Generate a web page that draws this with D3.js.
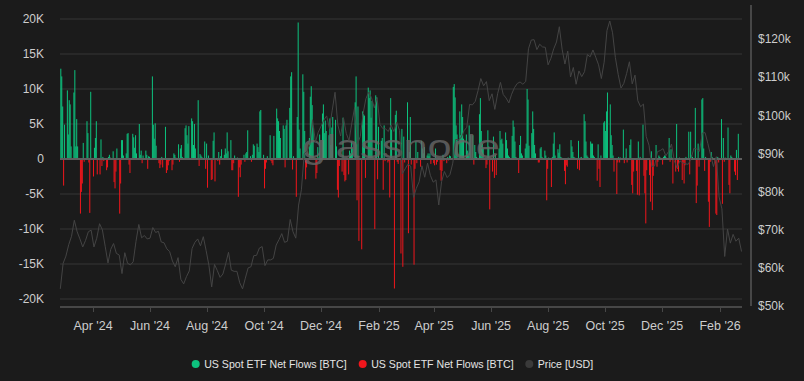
<!DOCTYPE html>
<html><head><meta charset="utf-8">
<script src="https://cdn.jsdelivr.net/npm/d3@7"></script>
<style>
html,body{margin:0;padding:0;background:#1b1b1b;}
svg{display:block;}
text{font-family:"Liberation Sans",Arial,sans-serif;}
</style></head><body>
<svg id="chart" width="804" height="381"></svg>
<script>
// ---------- DATA ----------
// Daily (weekday) US spot ETF net flows, in thousand BTC, starting Mon 2024-02-26, one row per week (Mon..Fri)
const flowStart = "2024-02-26";
const flowsK = [
  12.9, 11.8, 7.5, -3.8, 4.9,
  9.8, 3.5, 8.4, 7.8, 1.8,
  9.5, 12.7, 1.8, 5.7, 1.8,
  -7.8, -4.7, -3.5, 2.3, -0.4,
  5.4, 3.7, -0.5, -7.7, 9.6,
  -2.5, 1.6, 3.0, 5.4, -2.2,
  -2.2, 2.8, -1.0, 0.3, -0.3,
  -1.6, -1.2, 0.3, 0.6, 0.2,
  1.1, -3.3, -4.2, -1.8, 1.5,
  -7.8, -3.5, 2.7, 2.7, 0.5,
  0.8, 3.6, 3.7, -0.8, -2.0,
  3.6, 3.1, 1.6, 3.4, 0.8,
  5.0, 0.6, 1.2, -0.6, 0.5,
  1.2, 0.6, -1.4, 0.4, 0.3,
  11.8, 4.9, 2.9, 5.1, 1.9,
  -0.6, -1.3, -0.8, 0.3, -1.2,
  4.6, -2.0, -1.6, -0.9, -0.3,
  -1.6, -0.8, 0.8, 0.6, 0.2,
  2.1, -0.4, 1.5, 2.0, 0.3,
  4.4, 4.8, 3.4, 2.2, 4.7,
  5.8, 5.4, 2.0, 5.0, 1.5,
  8.4, -1.0, 0.7, 0.5, 0.3,
  2.5, -1.4, 2.2, -4.1, 0.5,
  -3.0, -2.9, 2.6, 3.8, -3.2,
  -0.3, 1.0, -0.8, 0.4, 1.4,
  0.6, 1.5, 0.8, 3.8, 1.1,
  2.7, -1.6, -1.6, -0.6, 0.5,
  0.2, -5.4, -1.2, -2.6, -0.8,
  0.6, -0.4, 0.8, 1.0, 4.1,
  0.4, -0.4, 0.6, 2.1, 1.9,
  2.2, 1.7, 1.0, 6.8, 7.0,
  0.6, -4.2, -1.4, -0.5, 0.4,
  3.4, -0.3, -0.6, -0.9, 3.3,
  7.2, 5.8, 5.4, 4.0, 3.0,
  4.8, 4.3, -1.2, 4.8, 5.6,
  7.3, 11.8, 12.4, -1.5, 0.4,
  -5.4, 6.0, 19.5, 4.2, 1.5,
  12.1, 9.6, 4.0, -2.9, -1.2,
  3.0, 8.9, 10.4, 7.7, 4.5,
  -2.8, -2.0, 1.7, 0.2, 3.5,
  6.5, 7.8, 3.7, 5.5, 4.0,
  3.4, 5.8, 2.0, 4.5, 6.0,
  5.6, 1.8, -4.4, -5.5, -1.0,
  -1.8, 5.9, -2.3, -3.2, -3.0,
  -2.2, 1.2, 0.8, 2.5, 1.5,
  8.1, 11.8, -5.9, 7.5, -11.7,
  -12.9, 6.8, 6.4, 6.2, -2.7,
  10.2, 8.7, 9.8, 5.9, 8.3,
  -10.0, 9.1, 8.8, -2.9, 4.6,
  2.6, 3.0, -4.4, 4.8, -0.3,
  -0.5, -0.3, -5.5, 8.7, 4.2,
  -18.5, 6.3, 6.9, -0.4, -0.7,
  -13.5, 4.3, -15.4, 3.2, -0.5,
  8.1, -10.6, 1.0, 6.0, -0.8,
  -15.1, -1.4, 2.5, -0.6, 1.0,
  -1.1, 2.6, 1.5, 0.8, 1.7,
  0.5, 0.8, 0.4, 0.8, -0.7,
  -0.6, -0.9, 1.5, -0.8, -0.4,
  -1.6, -3.1, -1.7, 0.6, -0.3,
  -0.6, 0.3, -0.2, 0.5, 0.4,
  10.3, 10.7, 8.8, 4.8, 3.5,
  6.8, 3.4, 7.8, 6.0, 2.9,
  3.5, 1.2, 0.5, 4.8, 3.4,
  3.4, -0.8, 2.0, 1.0, 0.3,
  6.4, 8.7, 4.0, 2.2, 1.5,
  -1.3, -0.8, 4.1, 1.8, -7.2,
  -1.8, 3.2, -2.7, 0.6, -2.3,
  1.5, 4.0, 2.7, 2.9, 2.2,
  3.8, 2.7, 1.5, 0.5, 0.3,
  3.3, 5.5, 4.6, 2.5, 0.3,
  -2.0, 2.0, 3.3, 0.8, 0.5,
  1.5, 2.2, 10.0, 8.5, 1.9,
  3.7, 6.8, 4.3, 2.0, 0.8,
  -0.5, -0.5, 1.5, 1.7, 0.3,
  1.2, 0.5, -5.9, -1.4, 0.2,
  -4.0, 0.3, 2.2, 3.8, 0.5,
  1.4, 0.9, 2.1, 0.3, 0.2,
  -1.7, -3.6, -0.9, -1.1, 0.2,
  2.7, 1.8, 1.0, 0.3, 0.2,
  -1.4, 2.6, -1.6, 0.2, 0.3,
  6.4, 5.4, 2.5, 0.5, 0.3,
  2.5, 2.2, 2.2, 0.5, 0.3,
  -3.1, 2.1, -1.4, -4.0, 0.5,
  5.2, 5.4, 4.0, 6.8, 9.5,
  7.8, 3.4, 2.0, 0.5, -1.8,
  -5.0, -0.5, 0.3, -0.5, 0.2,
  4.2, -0.6, 0.2, 1.5, -0.5,
  2.0, 2.8, -3.7, -4.9, -1.8,
  -1.7, -5.1, 2.5, -5.2, 0.3,
  4.9, -2.4, -4.9, -9.2, -1.6,
  -2.3, -6.1, 1.1, -7.3, -2.4,
  2.0, -1.1, -0.4, 0.5, 0.3,
  -0.8, 0.3, 0.5, 0.4, 0.2,
  3.0, -0.4, 1.4, 0.2, -3.5,
  -1.8, 5.0, -1.4, -1.8, 0.2,
  -3.0, -0.6, -3.5, -0.9, 0.3,
  3.9, -2.2, 3.9, 0.5, 0.3,
  7.3, -6.3, -3.8, 2.2, -1.1,
  8.5, 8.7, 1.5, -1.7, 0.3,
  -6.1, -9.7, -0.4, 1.0, 0.3,
  -0.6, -7.8, -8.0, 0.3, -0.5,
  5.7, -6.4, 3.0, -0.4, 0.2,
  4.5, -3.7, -4.9, 0.5, 0.3,
  -1.8, -2.3, 1.3, -3.0, 3.6
];

// BTC price in thousand USD, every 3 days starting 2024-02-26
const priceStart = "2024-02-26";
const priceStepDays = 3;
const priceK = [
  54.5, 61.2,
  63.1, 66.1, 68.3, 72.5, 69.5, 67.6, 65.5, 67.2, 69.5, 69.9,
  65.5, 67.8, 71.6, 70.0, 65.7, 61.3, 64.9, 66.4, 63.8, 63.4,
  58.5, 64.0, 61.2, 60.8, 61.6, 67.0, 71.4, 67.9, 68.5, 67.6,
  67.8, 70.6, 69.3, 69.6, 66.8, 66.6, 65.0, 64.3, 61.8, 60.3,
  62.7, 57.0, 55.8, 57.7, 59.2, 65.1, 66.7, 67.6, 65.8, 68.2, 64.6,
  60.7, 55.0, 60.9, 59.3, 57.5, 58.4, 61.1, 64.1, 59.4, 59.1,
  59.1, 56.1, 54.5, 57.3, 60.0, 60.3, 63.2, 63.3, 65.2, 65.6,
  60.6, 62.1, 62.1, 62.5, 66.0, 67.4, 69.0, 66.7, 67.0, 72.7,
  69.5, 67.8, 76.5, 80.5, 90.0, 90.6, 92.3, 98.9, 93.0, 95.6,
  97.2, 98.8, 99.9, 96.6, 101.4, 106.1, 97.5, 94.6, 99.4, 95.3, 93.4,
  98.1, 102.1, 92.5, 94.5, 100.5, 104.4, 106.1, 104.7, 102.0, 104.7,
  97.7, 96.6, 96.5, 95.8, 97.5, 95.8, 98.3, 96.1, 84.7,
  86.0, 87.2, 86.7, 78.5, 80.9, 82.6, 86.8, 83.8, 87.5, 84.3, 82.5,
  83.1, 76.5, 82.6, 85.3, 83.7, 84.5, 87.5, 93.7, 93.7, 94.2,
  96.0, 96.9, 102.9, 102.8, 103.7, 106.5, 109.7, 107.8, 108.9, 103.9,
  105.7, 101.6, 105.7, 108.7, 105.5, 104.6, 103.3, 105.6, 107.3, 108.4,
  108.8, 108.2, 108.9, 117.5, 119.8, 119.9, 117.3, 118.7, 118.0, 117.9,
  113.3, 115.0, 117.5, 119.3, 123.3, 117.4, 113.5, 116.9, 110.1, 112.6, 108.2,
  111.7, 110.2, 111.5, 116.0, 115.4, 117.2, 115.3, 113.3, 109.7, 114.0,
  122.3, 124.8, 121.7, 115.2, 110.8, 107.2, 108.4, 111.0, 114.1, 108.3,
  110.6, 103.9, 102.3, 103.0, 94.5, 92.2, 86.6, 86.8, 90.5, 90.8,
  91.3, 89.4, 90.6, 92.5, 88.2, 86.2, 88.1, 87.6, 87.3, 87.2,
  88.7, 91.4, 91.2, 90.6, 95.4, 95.5, 92.6, 89.5, 86.6, 89.2, 78.6,
  75.5, 63.0, 70.2, 66.5, 68.8, 67.0, 67.8, 64.3
];

const flowTicks = [-20000, -15000, -10000, -5000, 0, 5000, 10000, 15000, 20000];
const flowTickLabels = ["-20K", "-15K", "-10K", "-5K", "0", "5K", "10K", "15K", "20K"];
const priceTicks = [50000, 60000, 70000, 80000, 90000, 100000, 110000, 120000];
const priceTickLabels = ["$50k", "$60k", "$70k", "$80k", "$90k", "$100k", "$110k", "$120k"];
const monthTicks = ["2024-04-01", "2024-06-01", "2024-08-01", "2024-10-01", "2024-12-01", "2025-02-01",
                    "2025-04-01", "2025-06-01", "2025-08-01", "2025-10-01", "2025-12-01", "2026-02-01"];
const monthTickLabels = ["Apr '24", "Jun '24", "Aug '24", "Oct '24", "Dec '24", "Feb '25",
                         "Apr '25", "Jun '25", "Aug '25", "Oct '25", "Dec '25", "Feb '26"];
const legendLabels = ["US Spot ETF Net Flows [BTC]", "US Spot ETF Net Flows [BTC]", "Price [USD]"];

// ---------- CHART ----------
const C = {bg: "#1b1b1b", grid: "#373737", zero: "#5e5e5e", axis: "#474747",
           green: "#0dc27e", red: "#f0161c", price: "#444444", text: "#cdcdcd", legend: "#e4e4e4"};

const svg = d3.select("#chart");
svg.append("rect").attr("width", 804).attr("height", 381).attr("fill", C.bg);

const parse = d3.utcParse("%Y-%m-%d");
const start = parse(flowStart);
const flows = flowsK.map((v, i) => ({
  date: d3.utcDay.offset(start, Math.floor(i / 5) * 7 + (i % 5)),
  value: v * 1000
})).filter(d => d.value !== 0);

const pStart = parse(priceStart);
const prices = priceK.map((v, i) => ({date: d3.utcDay.offset(pStart, i * priceStepDays), value: v * 1000}));

const x = d3.scaleUtc()
  .domain([new Date(Date.UTC(2024, 1, 25, 16)), new Date(Date.UTC(2026, 1, 24, 12))])
  .range([60, 742]);
const yF = d3.scaleLinear().domain([-20000, 20000]).range([299, 19]);
const yP = d3.scaleLinear().domain([50000, 120000]).range([306, 39.3]);

// grid
svg.append("g").selectAll("line").data(flowTicks.filter(t => t !== 0)).join("line")
  .attr("x1", 60).attr("x2", 742)
  .attr("y1", d => yF(d)).attr("y2", d => yF(d))
  .attr("stroke", C.grid).attr("stroke-width", 1);

// bars
svg.append("g").selectAll("rect").data(flows).join("rect")
  .attr("x", d => x(d.date))
  .attr("width", 1.0)
  .attr("y", d => Math.min(yF(d.value), yF(0)))
  .attr("height", d => Math.abs(yF(d.value) - yF(0)))
  .attr("fill", d => d.value > 0 ? C.green : C.red);

// zero line
svg.append("line").attr("x1", 60).attr("x2", 742)
  .attr("y1", yF(0)).attr("y2", yF(0))
  .attr("stroke", C.zero).attr("stroke-width", 2);

// watermark
svg.append("text")
  .attr("x", 302).attr("y", 158)
  .attr("textLength", 198).attr("lengthAdjust", "spacingAndGlyphs")
  .attr("font-family", "DejaVu Sans").attr("font-weight", 400)
  .attr("font-size", 34)
  .attr("fill", "#666666").attr("fill-opacity", 0.82)
  .text("glassnode");

// price line
svg.append("path").datum(prices)
  .attr("fill", "none").attr("stroke", C.price).attr("stroke-width", 1)
  .attr("stroke-linejoin", "round")
  .attr("d", d3.line().x(d => x(d.date)).y(d => yP(d.value)));

// bottom axis line + ticks
svg.append("line").attr("x1", 60).attr("x2", 742).attr("y1", 307).attr("y2", 307)
  .attr("stroke", C.axis).attr("stroke-width", 2);
const mt = monthTicks.map(parse);
svg.append("g").selectAll("line").data(mt).join("line")
  .attr("x1", d => Math.round(x(d)) + 0.5).attr("x2", d => Math.round(x(d)) + 0.5)
  .attr("y1", 308).attr("y2", 312).attr("stroke", C.axis).attr("stroke-width", 1);
svg.append("g").selectAll("text").data(mt).join("text")
  .attr("x", d => x(d)).attr("y", 326)
  .attr("text-anchor", "middle").attr("dominant-baseline", "central")
  .attr("font-size", 12.5).attr("fill", C.text)
  .text((d, i) => monthTickLabels[i]);

// left labels
svg.append("g").selectAll("text").data(flowTicks).join("text")
  .attr("x", 44).attr("y", d => yF(d))
  .attr("text-anchor", "end").attr("dominant-baseline", "central")
  .attr("font-size", 12).attr("fill", C.text)
  .text((d, i) => flowTickLabels[i]);

// right axis
svg.append("line").attr("x1", 751).attr("x2", 751).attr("y1", 5).attr("y2", 306)
  .attr("stroke", C.axis).attr("stroke-width", 2);
svg.append("g").selectAll("text").data(priceTicks).join("text")
  .attr("x", 758).attr("y", d => yP(d))
  .attr("text-anchor", "start").attr("dominant-baseline", "central")
  .attr("font-size", 12).attr("fill", C.text)
  .text((d, i) => priceTickLabels[i]);

// legend
const legendX = [195.7, 362.7, 529.3];
const legendColors = [C.green, C.red, "#3a3a3a"];
const lg = svg.append("g");
legendLabels.forEach((lab, i) => {
  lg.append("circle").attr("cx", legendX[i]).attr("cy", 364).attr("r", 4).attr("fill", legendColors[i]);
  lg.append("text").attr("x", legendX[i] + 8.5).attr("y", 364)
    .attr("dominant-baseline", "central").attr("font-size", 10.6).attr("fill", C.legend)
    .text(lab);
});
</script>
</body></html>
